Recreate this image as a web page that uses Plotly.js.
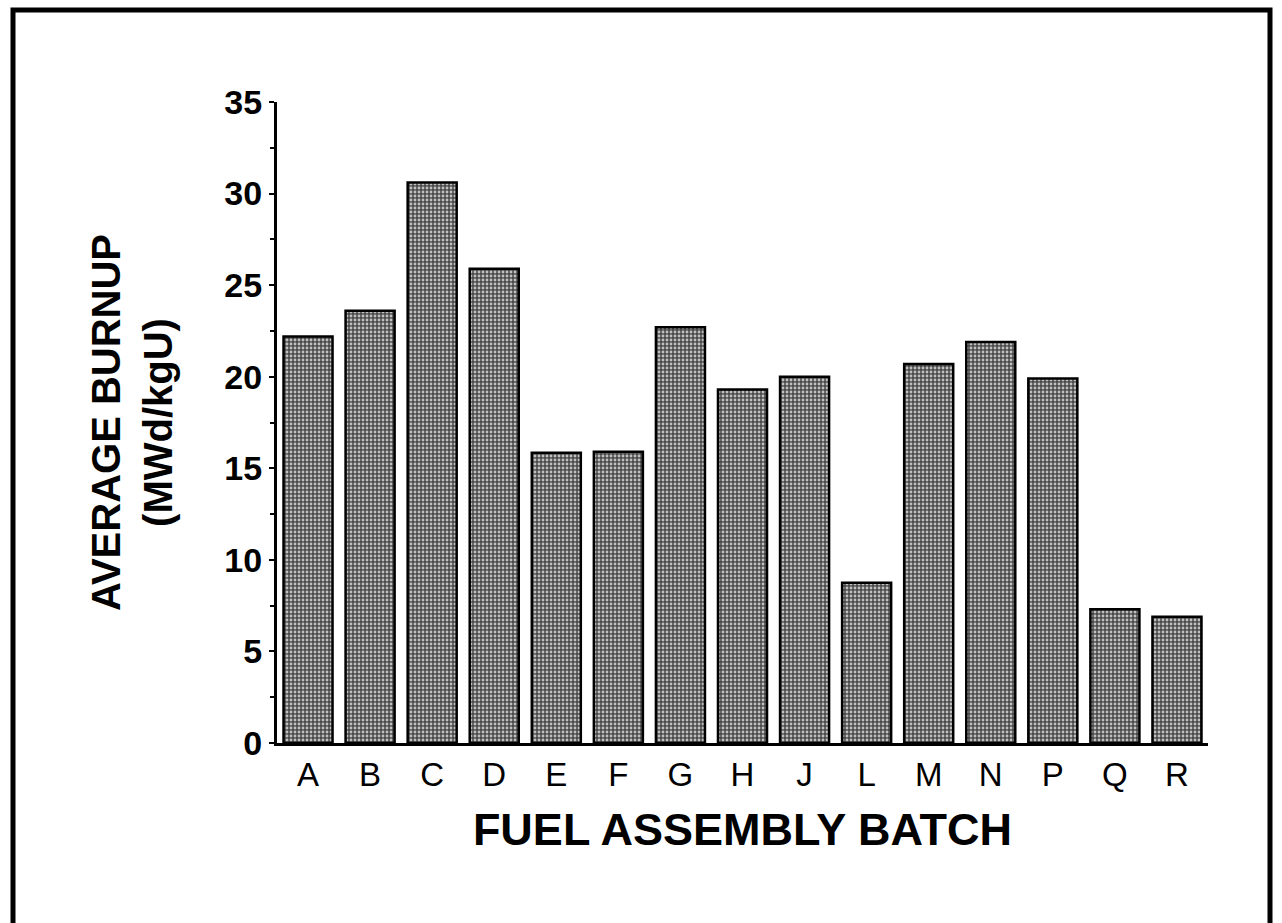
<!DOCTYPE html>
<html>
<head>
<meta charset="utf-8">
<script src="https://cdn.plot.ly/plotly-3.0.1.min.js"></script>
<style>html,body{margin:0;padding:0;background:#fff;}#chart{width:1282px;height:923px;}</style>
</head>
<body>
<div id="chart"></div>
<script>
const batches = ["A","B","C","D","E","F","G","H","J","L","M","N","P","Q","R"];
const burnup = [22.2, 23.6, 30.6, 25.9, 15.85, 15.9, 22.7, 19.3, 20.0, 8.75, 20.7, 21.9, 19.9, 7.3, 6.9];
const yTickVals = [0, 5, 10, 15, 20, 25, 30, 35];
const xTitle = "FUEL ASSEMBLY BATCH";
const yTitle = "AVERAGE BURNUP<br>(MWd/kgU)";

const FONT = "Arial, 'Liberation Sans', Helvetica, sans-serif";

const trace = {
  type: "bar",
  x: batches,
  y: burnup,
  marker: {
    color: "#6e6e6e",
    line: {color: "#000", width: 2.5},
    pattern: {shape: ".", bgcolor: "#4a4a4a", fgcolor: "#c0c0c0", size: 4, solidity: 0.4, fillmode: "replace"}
  },
  hoverinfo: "x+y"
};

// plot area: x 277..1208, y 102..743
const L = 277, R = 1208, T = 102, B = 743;
const W = 1282, H = 923;
const px = v => (v - L) / (R - L);
const py = v => (B - v) / (B - T);

const layout = {
  width: W, height: H,
  margin: {l: L, r: W - R, t: T, b: H - B, pad: 0},
  paper_bgcolor: "#fff",
  plot_bgcolor: "#fff",
  showlegend: false,
  bargap: 0.21,
  font: {family: FONT, color: "#000"},
  xaxis: {
    type: "category",
    range: [-0.5, batches.length - 0.5],
    showline: true, linecolor: "#000", linewidth: 3,
    ticks: "", showgrid: false, zeroline: false,
    tickfont: {size: 33, family: FONT, color: "#000"},
    ticklabelstandoff: 0,
    title: {text: xTitle, font: {size: 45, family: FONT, color: "#000", weight: "bold"}, standoff: 22}
  },
  yaxis: {
    range: [0, 35],
    tickvals: yTickVals,
    showline: true, linecolor: "#000", linewidth: 3,
    ticks: "outside", ticklen: 5, tickwidth: 2, tickcolor: "#000",
    minor: {dtick: 2.5, ticks: "outside", ticklen: 4, tickwidth: 2, tickcolor: "#000", showgrid: false},
    showgrid: false, zeroline: false,
    tickfont: {size: 34, family: FONT, color: "#000", weight: "bold"},
    title: {text: yTitle, font: {size: 40, family: FONT, color: "#000", weight: "bold"}, standoff: 40}
  },
  shapes: [{
    type: "path", xref: "paper", yref: "paper",
    path: `M ${px(13)} ${py(923)} L ${px(13)} ${py(10)} L ${px(1270)} ${py(10)} L ${px(1270)} ${py(923)}`,
    line: {color: "#000", width: 5}
  }]
};

Plotly.newPlot("chart", [trace], layout, {displayModeBar: false, staticPlot: true});
</script>
</body>
</html>
